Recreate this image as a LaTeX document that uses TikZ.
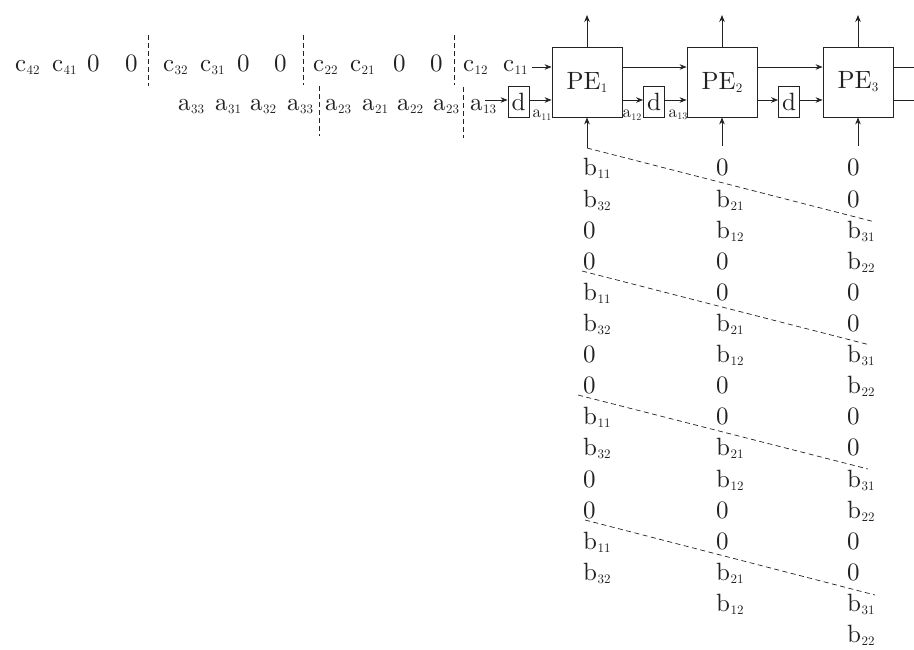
\documentclass[tikz,border=0pt]{standalone}
\usepackage{fontspec}
\setmainfont{lmroman10-regular}[Extension=.otf]
\usetikzlibrary{arrows.meta,calc}
\definecolor{ink}{HTML}{222222}
\newcommand\sbs[2]{#1\kern0.4pt\raisebox{-3pt}{\fontsize{13}{14}\selectfont #2}}
\newcommand\sbsm[2]{#1\kern0.3pt\raisebox{-2.5pt}{\fontsize{10}{11}\selectfont #2}}
\tikzset{
  txt/.style={inner sep=0pt, anchor=base west, font=\fontsize{25}{30}\selectfont, text=ink},
  lbl/.style={inner sep=0pt, font=\fontsize{17}{20}\selectfont, text=ink},
  pebox/.style={draw=ink, line width=0.8pt, minimum width=70pt, minimum height=70pt, inner sep=0pt, font=\fontsize{25}{30}\selectfont, text=ink},
  dbox/.style={draw=ink, line width=0.8pt, minimum width=21pt, minimum height=31pt, inner sep=0pt, font=\fontsize{25}{30}\selectfont, text=ink},
  arr/.style={draw=ink, line width=0.8pt, -{Stealth[length=7pt,width=5.5pt]}},
  wire/.style={draw=ink, line width=0.8pt},
  sepline/.style={draw=ink, line width=0.8pt, dash pattern=on 5pt off 3pt},
  diagline/.style={draw=ink, line width=0.7pt, dash pattern=on 5pt off 3.5pt}
}
\begin{document}
\begin{tikzpicture}[x=1pt,y=-1pt]
\useasboundingbox (0,0) rectangle (914,650);
% level coordinates
\coordinate (U) at (0,67);
\coordinate (L) at (0,100);
\coordinate (R) at (914,0);
% c row
\node[txt] (c42) at (15,72) {\sbs{c}{42}};
\node[txt] (c41) at (52,72) {\sbs{c}{41}};
\node[txt] (c0a) at (87,72) {0};
\node[txt] (c0b) at (125,72) {0};
\node[txt] (c32) at (163,72) {\sbs{c}{32}};
\node[txt] (c31) at (200,72) {\sbs{c}{31}};
\node[txt] (c0c) at (237,72) {0};
\node[txt] (c0d) at (274,72) {0};
\node[txt] (c22) at (313,72) {\sbs{c}{22}};
\node[txt] (c21) at (350,72) {\sbs{c}{21}};
\node[txt] (c0e) at (393,72) {0};
\node[txt] (c0f) at (430,72) {0};
\node[txt] (c12) at (463,72) {\sbs{c}{12}};
\node[txt] (c11) at (503,72) {\sbs{c}{11}};
% a row
\node[txt] (a33a) at (178,111) {\sbs{a}{33}};
\node[txt] (a31) at (215,111) {\sbs{a}{31}};
\node[txt] (a32) at (250,111) {\sbs{a}{32}};
\node[txt] (a33b) at (287,111) {\sbs{a}{33}};
\node[txt] (a23a) at (325,111) {\sbs{a}{23}};
\node[txt] (a21) at (362,111) {\sbs{a}{21}};
\node[txt] (a22) at (397,111) {\sbs{a}{22}};
\node[txt] (a23b) at (433,111) {\sbs{a}{23}};
\node[txt] (a13) at (470,111) {\sbs{a}{13}};
% separators
\coordinate (s1t) at (148,35); \coordinate (s1b) at (148,86);
\coordinate (s2t) at (303,35); \coordinate (s2b) at (303,85);
\coordinate (s3t) at (454,35); \coordinate (s3b) at (454,85);
\coordinate (s4t) at (319,86); \coordinate (s4b) at (319,136);
\coordinate (s5t) at (463,87); \coordinate (s5b) at (463,138);
\draw[sepline] (s1t) -- (s1b);
\draw[sepline] (s2t) -- (s2b);
\draw[sepline] (s3t) -- (s3b);
\draw[sepline] (s4t) -- (s4b);
\draw[sepline] (s5t) -- (s5b);
% PEs and delays
\node[pebox] (PE1) at (587,82) {\sbs{PE}{1}};
\node[pebox] (PE2) at (722,82) {\sbs{PE}{2}};
\node[pebox] (PE3) at (858,82) {\sbs{PE}{3}};
\node[dbox] (d0) at (518.5,102) {d};
\node[dbox] (d1) at (654,102) {d};
\node[dbox] (d2) at (789,102) {d};
% small labels
\node[lbl] (la11) at (542,115) {\sbsm{a}{11}};
\node[lbl] (la12) at (632,115) {\sbsm{a}{12}};
\node[lbl] (la13) at (678,115) {\sbsm{a}{13}};
% horizontal connections
\draw[arr, shorten <=4pt] (c11.east |- U) -- (PE1.west |- U);
\coordinate (a13t) at (485,100);
\draw[arr] (a13t) -- (d0.west |- L);
\draw[arr] (d0.east |- L) -- (PE1.west |- L);
\draw[arr] (PE1.east |- U) -- (PE2.west |- U);
\draw[arr] (PE1.east |- L) -- (d1.west |- L);
\draw[arr] (d1.east |- L) -- (PE2.west |- L);
\draw[arr] (PE2.east |- U) -- (PE3.west |- U);
\draw[arr] (PE2.east |- L) -- (d2.west |- L);
\draw[arr] (d2.east |- L) -- (PE3.west |- L);
\draw[wire] (PE3.east |- U) -- (R |- U);
\draw[wire] (PE3.east |- L) -- (R |- L);
% outputs up
\coordinate (o1) at (587,15);
\coordinate (o2) at (722,15);
\coordinate (o3) at (858,15);
\draw[arr] (PE1.north) -- (o1);
\draw[arr] (PE2.north) -- (o2);
\draw[arr] (PE3.north) -- (o3);
% inputs from below
\coordinate (i1) at (587,148);
\coordinate (i2) at (722,146);
\coordinate (i3) at (858,146);
\draw[arr] (i1) -- (PE1.south);
\draw[arr] (i2) -- (PE2.south);
\draw[arr] (i3) -- (PE3.south);
% b columns
\foreach \t [count=\i from 0] in {{\sbs{b}{11}},{\sbs{b}{32}},0,0,{\sbs{b}{11}},{\sbs{b}{32}},0,0,{\sbs{b}{11}},{\sbs{b}{32}},0,0,{\sbs{b}{11}},{\sbs{b}{32}}}
  \node[txt] (bA\i) at (583,{176+31.1*\i}) {\t};
\foreach \t [count=\i from 0] in {0,{\sbs{b}{21}},{\sbs{b}{12}},0,0,{\sbs{b}{21}},{\sbs{b}{12}},0,0,{\sbs{b}{21}},{\sbs{b}{12}},0,0,{\sbs{b}{21}},{\sbs{b}{12}}}
  \node[txt] (bB\i) at (716,{176+31.1*\i}) {\t};
\foreach \t [count=\i from 0] in {0,0,{\sbs{b}{31}},{\sbs{b}{22}},0,0,{\sbs{b}{31}},{\sbs{b}{22}},0,0,{\sbs{b}{31}},{\sbs{b}{22}},0,0,{\sbs{b}{31}},{\sbs{b}{22}}}
  \node[txt] (bC\i) at (847,{176+31.1*\i}) {\t};
% diagonal dashed separators
\coordinate (g1s) at (587,148); \coordinate (g1e) at (875,222);
\coordinate (g2s) at (582,271); \coordinate (g2e) at (870,345);
\coordinate (g3s) at (578,395); \coordinate (g3e) at (868,469);
\coordinate (g4s) at (585,520); \coordinate (g4e) at (875,595);
\draw[diagline] (g1s) -- (g1e);
\draw[diagline] (g2s) -- (g2e);
\draw[diagline] (g3s) -- (g3e);
\draw[diagline] (g4s) -- (g4e);
\end{tikzpicture}
\end{document}
